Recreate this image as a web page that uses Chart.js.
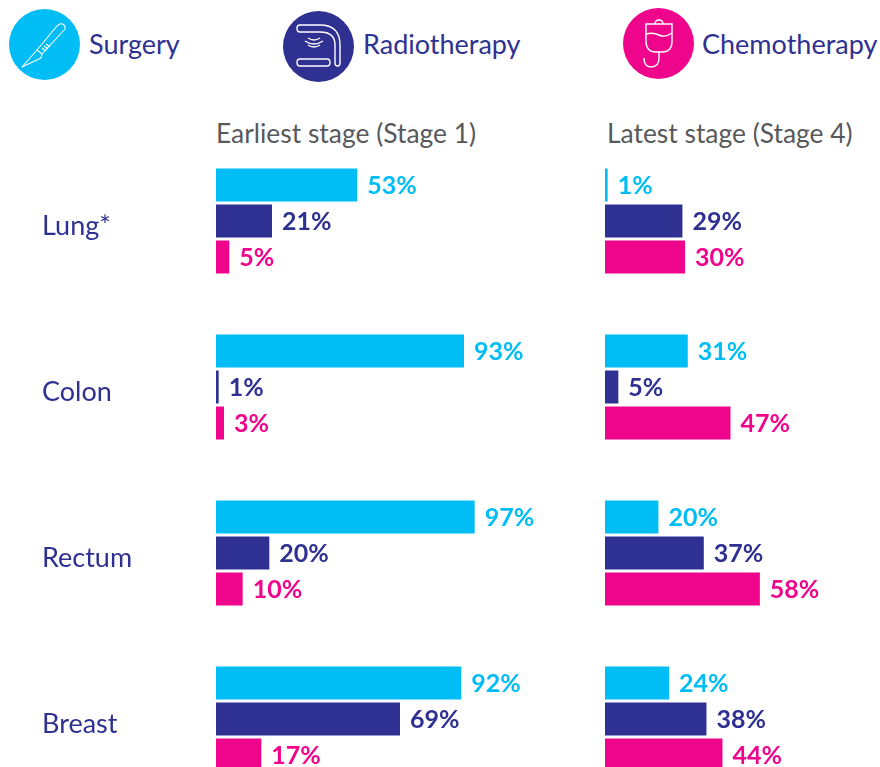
<!DOCTYPE html>
<html>
<head>
<meta charset="utf-8">
<script src="https://cdn.jsdelivr.net/npm/chart.js@4"></script>
<style>
    html, body { margin: 0; padding: 0; background: #fff; }
    body { position: relative; width: 880px; height: 767px; overflow: hidden; font-family: Lato, sans-serif; }
    canvas { position: absolute; }
    .legend-item { position: absolute; color: #2e3192; font-size: 27px; line-height: 30px; }
    .legend-icon { position: absolute; }
    .panel-title { position: absolute; top: 118px; color: #58595b; font-size: 26.4px; line-height: 30px; white-space: nowrap; }
</style>
</head>
<body>
<!-- legend icons, white line drawings on the series colour -->
<svg class="legend-icon" style="left:9px;top:9px" width="71" height="71" viewBox="0 0 71 71" fill="none" stroke="#fff" stroke-width="1.1" stroke-linejoin="round">
    <circle cx="35.5" cy="35.5" r="35.5" fill="#00bdf5" stroke="none"/>
    <path d="M13 58 L28 41 L33 45 L32 49 Z"/>
    <path d="M28 41 L48 17 Q52 13 55 16 Q57 18 56 20 L33 45"/>
    <path d="M33 39 L37 42 M35 37 L39 40 M37 35 L41 38"/>
</svg>
<svg class="legend-icon" style="left:283px;top:11px" width="71" height="71" viewBox="0 0 71 71" fill="none" stroke="#fff" stroke-width="1.4">
    <circle cx="35.5" cy="35.5" r="35.5" fill="#2e3192" stroke="none"/>
    <path d="M17 14 H37 Q57 14 57 34 V52 Q57 55 54.5 55 Q52 55 52 52 V34 Q52 21 37 21 H17 Q14 21 14 17.5 Q14 14 17 14 Z"/>
    <path d="M17 48 H44 Q47 48 47 51.5 Q47 55 44 55 H17 Q14 55 14 51.5 Q14 48 17 48 Z"/>
    <path d="M25 27 Q31 31 37 27 M22 30 Q31 36 40 30 M25 34 Q31 38 37 34"/>
</svg>
<svg class="legend-icon" style="left:623px;top:8px" width="71" height="71" viewBox="0 0 71 71" fill="none" stroke="#fff" stroke-width="1.4">
    <circle cx="35.5" cy="35.5" r="35.5" fill="#ef058c" stroke="none"/>
    <path d="M23 16 H49 V33 Q49 44 39 44 H33 Q23 44 23 33 Z"/>
    <path d="M32 16 Q32 12 36 12 Q40 12 40 16"/>
    <path d="M23 26 Q30 24 36 27 Q42 30 49 25"/>
    <path d="M36 44 V50 Q36 59 28 59 Q21 59 21 50"/>
</svg>
<div id="legend"></div>
<div id="titles"></div>
<canvas id="chartEarly" style="left:0;top:138px" width="536" height="664"></canvas>
<canvas id="chartLate" style="left:605px;top:138px" width="267" height="664"></canvas>
<script>
const categories = ["Lung*", "Colon", "Rectum", "Breast"];
const seriesNames = ["Surgery", "Radiotherapy", "Chemotherapy"];
const seriesColors = ["#00bdf5", "#2e3192", "#ef058c"];

const earlySurgery = [53, 93, 97, 92];
const earlyRadio = [21, 1, 20, 69];
const earlyChemo = [5, 3, 10, 17];

const lateSurgery = [1, 31, 20, 24];
const lateRadio = [29, 5, 37, 38];
const lateChemo = [30, 47, 58, 44];

const panelTitles = ["Earliest stage (Stage 1)", "Latest stage (Stage 4)"];
const legendLeft = [89, 363, 702];
const legendTop = [29, 29, 29];
const titleLeft = [216, 607];

seriesNames.forEach((name, i) => {
    const el = document.createElement("div");
    el.className = "legend-item";
    el.style.left = legendLeft[i] + "px";
    el.style.top = legendTop[i] + "px";
    el.textContent = name;
    document.getElementById("legend").appendChild(el);
});
panelTitles.forEach((name, i) => {
    const el = document.createElement("div");
    el.className = "panel-title";
    el.style.left = titleLeft[i] + "px";
    el.textContent = name;
    document.getElementById("titles").appendChild(el);
});

// writes the percentage just past the end of each bar
const valueLabels = {
    id: "valueLabels",
    afterDatasetsDraw(chart) {
        const ctx = chart.ctx;
        ctx.save();
        ctx.font = "bold 25px Lato";
        ctx.textBaseline = "middle";
        chart.data.datasets.forEach((ds, i) => {
            ctx.fillStyle = ds.backgroundColor;
            chart.getDatasetMeta(i).data.forEach((bar, j) => {
                ctx.fillText(ds.data[j] + "%", bar.x + 10, bar.y + 1);
            });
        });
        ctx.restore();
    }
};

function makeDatasets(surgery, radio, chemo) {
    return [surgery, radio, chemo].map((values, i) => ({
        label: seriesNames[i],
        data: values,
        backgroundColor: seriesColors[i],
        categoryPercentage: 108 / 166,
        barPercentage: 33 / 36
    }));
}

function makeChart(id, datasets, xMax, showCategories) {
    return new Chart(document.getElementById(id), {
        type: "bar",
        data: { labels: categories, datasets: datasets },
        options: {
            indexAxis: "y",
            responsive: false,
            animation: false,
            layout: { padding: { left: showCategories ? 42 : 0 } },
            plugins: { legend: { display: false }, tooltip: { enabled: false } },
            scales: {
                x: { display: false, min: 0, max: xMax },
                y: {
                    display: showCategories,
                    afterFit(axis) {
                        // keep the plot starting at the same x and use the full height
                        axis.width = showCategories ? 174 : 0;
                        axis.paddingTop = 0;
                        axis.paddingBottom = 0;
                    },
                    grid: { display: false },
                    border: { display: false },
                    ticks: {
                        crossAlign: "far",
                        labelOffset: 5,
                        color: "#2e3192",
                        font: { family: "Lato", size: 27 }
                    }
                }
            }
        },
        plugins: [valueLabels]
    });
}

makeChart("chartEarly", makeDatasets(earlySurgery, earlyRadio, earlyChemo), 120, true);
makeChart("chartLate", makeDatasets(lateSurgery, lateRadio, lateChemo), 100, false);
</script>
</body>
</html>
